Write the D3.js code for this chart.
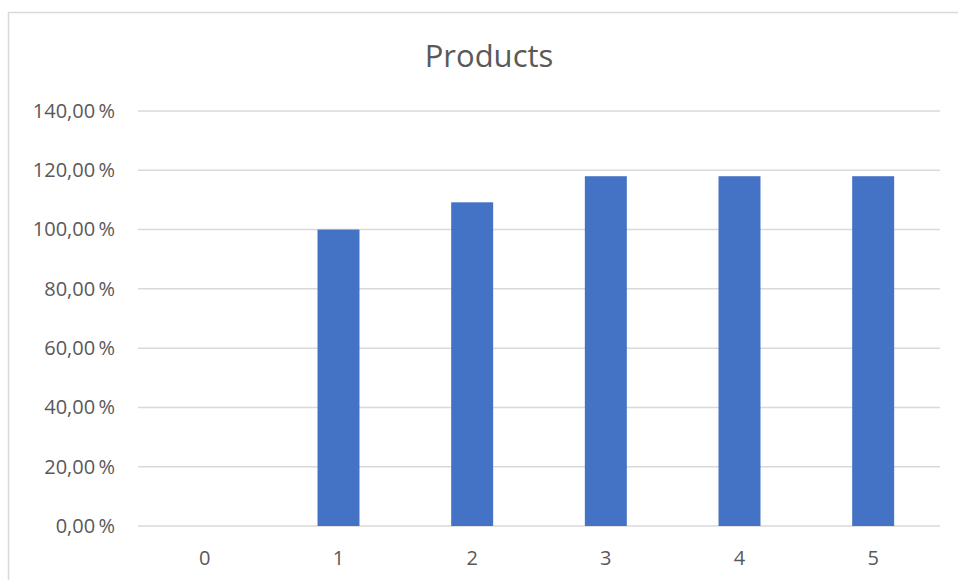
<!DOCTYPE html>
<html>
<head>
<meta charset="utf-8">
<script src="https://cdn.jsdelivr.net/npm/d3@7"></script>
<style>
  html, body { margin: 0; padding: 0; background: #fff; }
  svg { display: block; }
  text { font-family: "Open Sans", "Noto Sans", sans-serif; fill: #595959; }
</style>
</head>
<body>
<svg id="chart" width="958" height="580"></svg>
<script>
// Product share per category, in percent
const categories = ["0", "1", "2", "3", "4", "5"];
const values = [0, 100, 109.2, 118, 118, 118];
const yTicks = [0, 20, 40, 60, 80, 100, 120, 140];
const chartTitle = "Products";

const svg = d3.select("#chart");
const W = 958, H = 580;
const margin = { left: 138, right: 18, top: 111, bottom: 54 };

// chart frame
svg.append("rect")
  .attr("x", 8.5).attr("y", 12.5)
  .attr("width", W + 20).attr("height", H + 20)
  .attr("fill", "#fff").attr("stroke", "#d9d9d9").attr("stroke-width", 1.5);

const x = d3.scaleBand()
  .domain(categories)
  .range([margin.left, W - margin.right])
  .paddingInner(0.686).paddingOuter(0.343);

const y = d3.scaleLinear()
  .domain([0, 140])
  .range([H - margin.bottom, margin.top]);

const fmt = v => d3.format(".2f")(v).replace(".", ",") + "\u2009%";

// gridlines
svg.append("g")
  .selectAll("line")
  .data(yTicks)
  .join("line")
  .attr("x1", margin.left).attr("x2", W - margin.right)
  .attr("y1", d => y(d)).attr("y2", d => y(d))
  .attr("stroke", "#d9d9d9").attr("stroke-width", 1.5);

// y axis labels
const yAxis = d3.axisLeft(y).tickValues(yTicks).tickFormat(fmt).tickSize(0).tickPadding(23);
const gy = svg.append("g").attr("transform", `translate(${margin.left},0)`).call(yAxis);
gy.select(".domain").remove();
gy.selectAll("text").attr("font-size", 20).attr("font-family", null).attr("fill", null);

// x axis labels
const xb = d3.scaleBand().domain(categories).range([margin.left, W - margin.right]);
const xAxis = d3.axisBottom(xb).tickSize(0).tickPadding(25);
const gx = svg.append("g").attr("transform", `translate(0,${y(0)})`).call(xAxis);
gx.select(".domain").remove();
gx.selectAll("text").attr("font-size", 20).attr("font-family", null).attr("fill", null);

// bars
svg.append("g")
  .selectAll("rect")
  .data(values.map((v, i) => ({ c: categories[i], v })))
  .join("rect")
  .attr("x", d => x(d.c))
  .attr("width", x.bandwidth())
  .attr("y", d => y(d.v))
  .attr("height", d => y(0) - y(d.v))
  .attr("fill", "#4472c4");

// title
svg.append("text")
  .attr("x", 489).attr("y", 67)
  .attr("text-anchor", "middle")
  .attr("font-size", 31)
  .text(chartTitle);
</script>
</body>
</html>
